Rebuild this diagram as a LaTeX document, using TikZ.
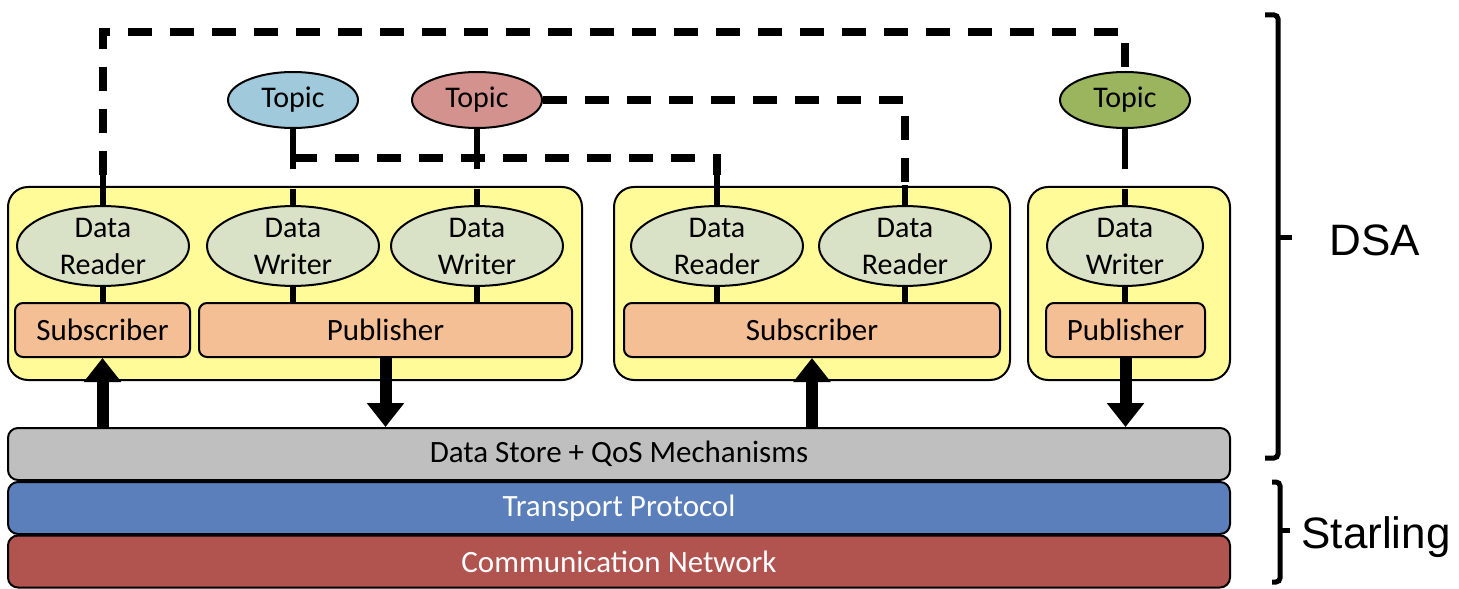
\documentclass[tikz,border=0pt]{standalone}
\usepackage{fontspec}
\setmainfont{Carlito}
\newfontfamily\labelfont{Liberation Sans}
\usepackage{tikz}
\usetikzlibrary{shapes.geometric, arrows.meta}

\definecolor{topicblue}{HTML}{A0CADB}
\definecolor{topicred}{HTML}{D4928F}
\definecolor{topicgreen}{HTML}{9BB55F}
\definecolor{entgreen}{HTML}{D9E2C6}
\definecolor{psorange}{HTML}{F4BF94}
\definecolor{dsayellow}{HTML}{FEFB98}
\definecolor{storegray}{HTML}{BFBFBF}
\definecolor{transblue}{HTML}{5A7FBA}
\definecolor{netred}{HTML}{B1534F}

\begin{document}
\begin{tikzpicture}[x=0.5pt, y=-0.5pt,
        container/.style={draw, line width=1pt, rounded corners=10pt, fill=dsayellow, inner sep=0pt, minimum height=96.5pt},
        entity/.style={draw, line width=1pt, ellipse, fill=entgreen, inner sep=0pt, minimum width=86pt, minimum height=38.5pt, align=center, font=\fontsize{15}{18.5}\selectfont},
        topic/.style={draw, line width=1pt, ellipse, inner sep=0pt, minimum width=65pt, minimum height=28pt, font=\fontsize{15}{18}\selectfont},
        pubsub/.style={draw, line width=1pt, rounded corners=4pt, fill=psorange, inner sep=0pt, minimum height=27pt, font=\fontsize{15.5}{18}\selectfont},
        layer/.style={draw, line width=1pt, rounded corners=5pt, inner sep=0pt, minimum width=611pt, minimum height=26pt, font=\fontsize{15.5}{18}\selectfont},
        link/.style={line width=3pt},
        dashlink/.style={line width=4pt, dash pattern=on 12pt off 9pt},
        flow/.style={line width=6pt, -{Triangle[width=18pt, length=12pt]}},
        bracket/.style={line width=2.5pt, rounded corners=2pt},
        sidelabel/.style={font=\labelfont\fontsize{22}{26}\selectfont}
        ]
        \useasboundingbox (0,0) rectangle (1459,588);

        \node[container, minimum width=287pt] (box1) at (295,283.5) {};
        \node[container, minimum width=198pt] (box2) at (812,283.5) {};
        \node[container, minimum width=101pt] (box3) at (1129,283.5) {};

        \node[topic, fill=topicblue] (tblue) at (293,100) {Topic};
        \node[topic, fill=topicred] (tred) at (477,100) {Topic};
        \node[topic, fill=topicgreen] (tgreen) at (1125,100) {Topic};

        \node[entity] (dr1) at (103,246) {Data\\Reader};
        \node[entity] (dw1) at (293,246) {Data\\Writer};
        \node[entity] (dw2) at (477,246) {Data\\Writer};
        \node[entity] (dr2) at (717,246) {Data\\Reader};
        \node[entity] (dr3) at (905,246) {Data\\Reader};
        \node[entity, minimum width=78pt] (dw3) at (1125,246) {Data\\Writer};

        \node[pubsub, minimum width=87.5pt] (sub1) at (102.5,330) {Subscriber};
        \node[pubsub, minimum width=186.5pt] (pub1) at (385.5,330) {Publisher};
        \node[pubsub, minimum width=188pt] (sub2) at (812,330) {Subscriber};
        \node[pubsub, minimum width=79.5pt] (pub2) at (1125.5,330) {Publisher};

        \node[layer, fill=storegray] (store) at (619,454) {Data Store + QoS Mechanisms};
        \node[layer, fill=transblue, text=white] (transport) at (619,508) {Transport Protocol};
        \node[layer, fill=netred, text=white] (network) at (619,561.5) {Communication Network};

        \draw[link] (dr1.south) -- (dr1.south |- sub1.north);
        \draw[link] (dw1.south) -- (dw1.south |- pub1.north);
        \draw[link] (dw2.south) -- (dw2.south |- pub1.north);
        \draw[link] (dr2.south) -- (dr2.south |- sub2.north);
        \draw[link] (dr3.south) -- (dr3.south |- sub2.north);
        \draw[link] (dw3.south) -- (dw3.south |- pub2.north);

        \draw[link] (tblue.south) -- ++(0,40);
        \draw[link] (tred.south) -- ++(0,40);
        \draw[link] (tgreen.south) -- ++(0,40);
        \draw[link] (dw1.north) -- ++(0,-16);
        \draw[link] (dw2.north) -- ++(0,-16);
        \draw[link] (dw3.north) -- ++(0,-16);
        \draw[link] (dr1.north) -- ++(0,-30) coordinate (dr1up);
        \draw[link] (dr2.north) -- ++(0,-30) coordinate (dr2up);
        \draw[link] (dr3.north) -- ++(0,-20) coordinate (dr3up);

        \draw[dashlink] (dr1up) -- (dr1up |- 0,32) -| (tgreen.north);
        \draw[dashlink] (tblue.south |- 0,158) -| (dr2up);
        \draw[dashlink] (tred.east) -| (dr3up);

        \draw[flow] (store.north -| sub1.south) -- (sub1.south);
        \draw[flow] (pub1.south) -- (store.north -| pub1.south);
        \draw[flow] (store.north -| sub2.south) -- (sub2.south);
        \draw[flow] (pub2.south) -- (store.north -| pub2.south);

        \draw[bracket] (1265,15) -- (1278,15) -- (1278,458) -- (1265,458);
        \draw[bracket] (1278,237) -- (1292,237);
        \node[sidelabel] (dsa) at (1375,240) {DSA};

        \draw[bracket] (1272,482) -- (1280,482) -- (1280,582) -- (1272,582);
        \draw[bracket] (1280,530) -- (1290,530);
        \node[sidelabel] (starling) at (1376,537) {Starling};
    \end{tikzpicture}
\end{document}
